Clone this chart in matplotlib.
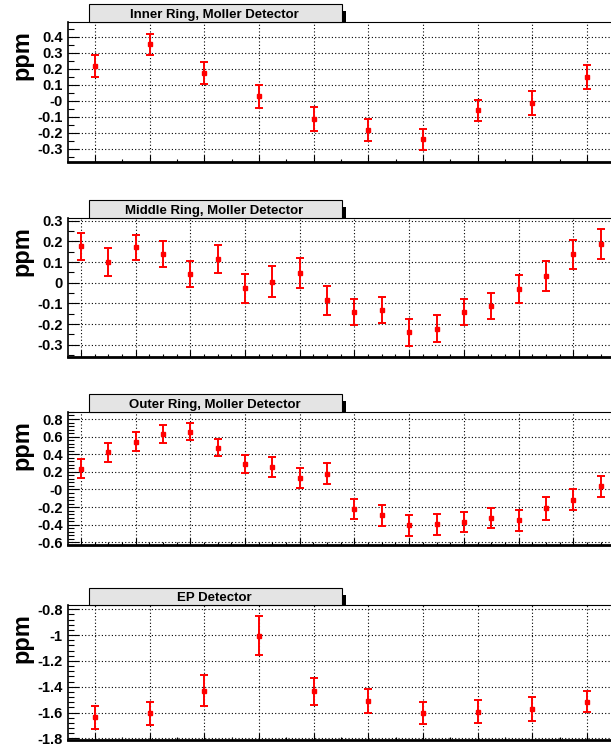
import matplotlib
matplotlib.use('Agg')
import matplotlib.pyplot as plt
from matplotlib.patches import Rectangle
from matplotlib.ticker import FixedLocator, FixedFormatter, MultipleLocator

plt.rcParams['font.family'] = ['Liberation Sans', 'DejaVu Sans']

# -----------------------------------------------------------------------------
# Datos (ppm por sector)

inner_x = list(range(1, 11))
inner_ppm = [0.219, 0.352, 0.173, 0.027, -0.117, -0.183, -0.242, -0.060, -0.013, 0.150]
inner_err = [0.070, 0.067, 0.070, 0.074, 0.075, 0.068, 0.067, 0.067, 0.073, 0.075]
inner_yticks = [-0.3, -0.2, -0.1, 0.0, 0.1, 0.2, 0.3, 0.4]
inner_ylabels = ['-0.3', '-0.2', '-0.1', '-0', '0.1', '0.2', '0.3', '0.4']

middle_x = list(range(1, 21))
middle_ppm = [0.177, 0.100, 0.171, 0.139, 0.042, 0.115, -0.026, 0.005, 0.047, -0.085,
              -0.142, -0.131, -0.240, -0.223, -0.142, -0.113, -0.031, 0.032, 0.137, 0.187]
middle_err = [0.065, 0.067, 0.062, 0.065, 0.062, 0.067, 0.070, 0.074, 0.073, 0.070,
              0.064, 0.062, 0.065, 0.065, 0.065, 0.065, 0.066, 0.072, 0.070, 0.074]
middle_yticks = [-0.3, -0.2, -0.1, 0.0, 0.1, 0.2, 0.3]
middle_ylabels = ['-0.3', '-0.2', '-0.1', '0', '0.1', '0.2', '0.3']

outer_x = list(range(1, 21))
outer_ppm = [0.234, 0.420, 0.541, 0.635, 0.658, 0.476, 0.291, 0.253, 0.129, 0.178,
             -0.219, -0.295, -0.405, -0.393, -0.374, -0.321, -0.352, -0.212, -0.117, 0.034]
outer_err = [0.108, 0.108, 0.106, 0.102, 0.098, 0.099, 0.104, 0.114, 0.116, 0.121,
             0.114, 0.117, 0.120, 0.119, 0.114, 0.112, 0.119, 0.131, 0.119, 0.116]
outer_yticks = [-0.6, -0.4, -0.2, 0.0, 0.2, 0.4, 0.6, 0.8]
outer_ylabels = ['-0.6', '-0.4', '-0.2', '-0', '0.2', '0.4', '0.6', '0.8']

ep_x = list(range(1, 11))
ep_ppm = [-1.638, -1.605, -1.429, -1.003, -1.434, -1.512, -1.602, -1.592, -1.574, -1.517]
ep_err = [0.087, 0.088, 0.122, 0.152, 0.105, 0.093, 0.084, 0.087, 0.094, 0.082]
ep_yticks = [-1.8, -1.6, -1.4, -1.2, -1.0, -0.8]
ep_ylabels = ['-1.8', '-1.6', '-1.4', '-1.2', '-1', '-0.8']

titulos = ['Inner Ring, Moller Detector', 'Middle Ring, Moller Detector',
           'Outer Ring, Moller Detector', 'EP Detector']

# -----------------------------------------------------------------------------
# Geometria en pixeles (el marco sigue a la derecha, fuera de la imagen)

ANCHO, ALTO = 611, 748
IZQ, DER = 68.3, 620.0

paneles = [
    dict(x=inner_x, y=inner_ppm, err=inner_err, yticks=inner_yticks, ylabels=inner_ylabels,
         ylim=(-0.381, 0.494), xlim=(0.512, 10.60), xmaj=inner_x, ymin=0.05,
         arriba=21.7, abajo=161.7),
    dict(x=middle_x, y=middle_ppm, err=middle_err, yticks=middle_yticks, ylabels=middle_ylabels,
         ylim=(-0.361, 0.3145), xlim=(0.536, 20.71), xmaj=middle_x[::2], ymin=0.05,
         arriba=217.7, abajo=357.3),
    dict(x=outer_x, y=outer_ppm, err=outer_err, yticks=outer_yticks, ylabels=outer_ylabels,
         ylim=(-0.634, 0.883), xlim=(0.536, 20.71), xmaj=outer_x[::2], ymin=0.04,
         arriba=411.7, abajo=545.3),
    dict(x=ep_x, y=ep_ppm, err=ep_err, yticks=ep_yticks, ylabels=ep_ylabels,
         ylim=(-1.81, -0.769), xlim=(0.512, 10.60), xmaj=ep_x, ymin=0.04,
         arriba=605.3, abajo=739.7),
]

fig = plt.figure(figsize=(ANCHO / 100, ALTO / 100), dpi=100)

for titulo, p in zip(titulos, paneles):
    ax = fig.add_axes([IZQ / ANCHO, 1 - p['abajo'] / ALTO,
                       (DER - IZQ) / ANCHO, (p['abajo'] - p['arriba']) / ALTO])

    ax.errorbar(p['x'], p['y'], yerr=p['err'], fmt='s', color='red', ms=2.2,
                elinewidth=1.4, capsize=3, capthick=1.4, zorder=3)

    ax.set_xlim(*p['xlim'])
    ax.set_ylim(*p['ylim'])

    # Ejes al estilo ROOT: marcas hacia dentro, rejilla punteada
    ax.yaxis.set_major_locator(FixedLocator(p['yticks']))
    ax.yaxis.set_major_formatter(FixedFormatter(p['ylabels']))
    ax.yaxis.set_minor_locator(MultipleLocator(p['ymin']))
    ax.xaxis.set_major_locator(FixedLocator(p['xmaj']))
    ax.xaxis.set_minor_locator(MultipleLocator(0.5))
    ax.tick_params(which='both', direction='in', top=False, right=False, labelbottom=False)
    ax.tick_params(axis='y', which='major', length=8, width=0.8, labelsize=10.5, pad=4)
    ax.tick_params(axis='y', which='minor', length=4, width=0.8)
    ax.tick_params(axis='x', which='major', length=5, width=0.8)
    ax.tick_params(axis='x', which='minor', length=2.5, width=0.8)
    for lbl in ax.get_yticklabels():
        lbl.set_fontweight('bold')

    ax.grid(True, which='major', color='black', linestyle=(0, (1, 2)), linewidth=0.8)
    ax.spines['top'].set_linewidth(0.8)
    ax.spines['left'].set_linewidth(1.2)
    ax.spines['bottom'].set_linewidth(2.0)

    fig.text(22 / ANCHO, 1 - (p['arriba'] + 8) / ALTO, 'ppm', rotation=90,
             ha='center', va='top', fontsize=17, fontweight='bold')

    # Caja del titulo con sombra
    alto_caja = 17.3
    fig.patches.append(Rectangle((342 / ANCHO, 1 - p['arriba'] / ALTO), 3.8 / ANCHO,
                                 (alto_caja - 7) / ALTO, transform=fig.transFigure,
                                 facecolor='black', edgecolor='none', zorder=5))
    fig.patches.append(Rectangle((89 / ANCHO, 1 - p['arriba'] / ALTO), (342 - 89) / ANCHO,
                                 alto_caja / ALTO, transform=fig.transFigure,
                                 facecolor='#e4e4e4', edgecolor='black', linewidth=0.8, zorder=6))
    fig.text((89 + 340) / 2 / ANCHO, 1 - (p['arriba'] - alto_caja / 2 + 1.5) / ALTO, titulo,
             ha='center', va='center', fontsize=9.5, fontweight='bold', zorder=7)

fig.savefig('out.png', dpi=100)
